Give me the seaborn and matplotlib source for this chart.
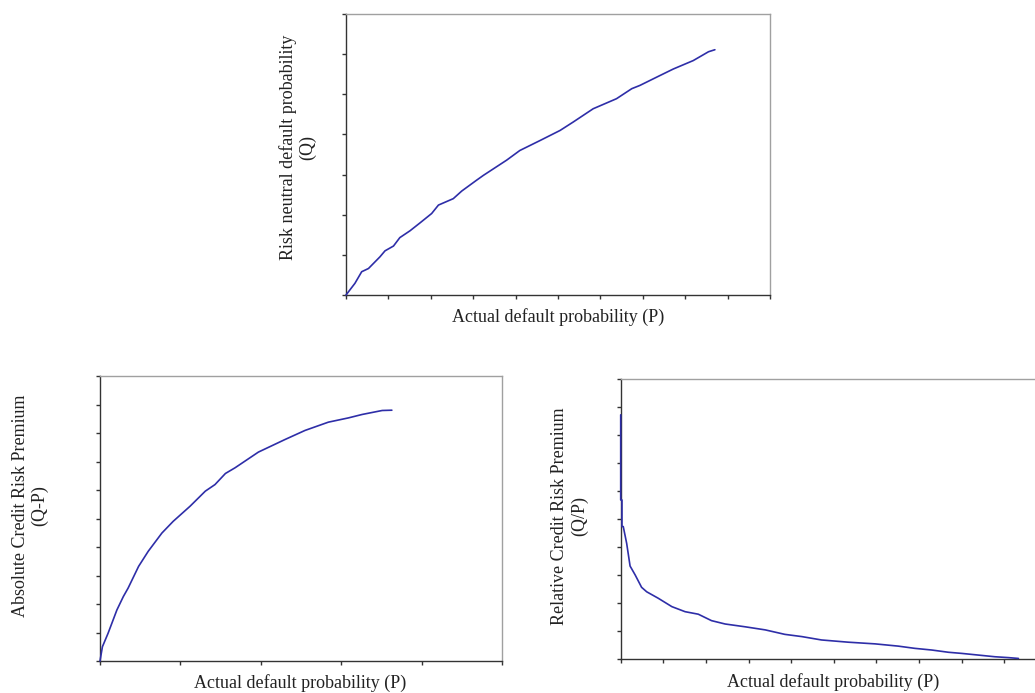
import numpy as np
import matplotlib
matplotlib.use("Agg")
import matplotlib.pyplot as plt
import seaborn as sns

# ---- data (arbitrary units, tick-based scale) ----
q_x = [0.0, 0.21, 0.37, 0.53, 0.80, 0.92, 1.12, 1.27, 1.51, 1.75, 2.02, 2.18, 2.53, 2.73,
       3.08, 3.24, 3.79, 4.10, 4.58, 5.05, 5.36, 5.83, 6.38, 6.74, 6.93, 7.41, 7.72, 8.19,
       8.55, 8.70]
q_y = [0.0, 0.29, 0.58, 0.66, 0.95, 1.10, 1.22, 1.43, 1.60, 1.80, 2.03, 2.24, 2.40, 2.59,
       2.86, 2.98, 3.36, 3.60, 3.85, 4.10, 4.31, 4.64, 4.89, 5.14, 5.22, 5.47, 5.63, 5.84,
       6.06, 6.11]

abs_x = [0.0, 0.03, 0.10, 0.21, 0.29, 0.35, 0.48, 0.60, 0.77, 0.91, 1.12, 1.31, 1.43, 1.56,
         1.68, 1.97, 2.30, 2.55, 2.84, 3.09, 3.26, 3.51, 3.63]
abs_y = [0.0, 0.50, 0.97, 1.79, 2.26, 2.56, 3.32, 3.85, 4.49, 4.90, 5.43, 5.96, 6.19, 6.58,
         6.78, 7.33, 7.77, 8.09, 8.38, 8.53, 8.65, 8.79, 8.80]

rel_x = [0.0, 0.0, 0.03, 0.03, 0.06, 0.14, 0.22, 0.34, 0.49, 0.61, 0.88, 1.20, 1.51, 1.82,
         2.13, 2.45, 2.92, 3.39, 3.85, 4.25, 4.71, 5.34, 5.97, 6.51, 6.90, 7.30, 7.69, 8.00,
         8.39, 8.78, 9.09, 9.33]
rel_y = [8.72, 5.68, 5.68, 4.73, 4.73, 4.13, 3.32, 3.00, 2.56, 2.40, 2.17, 1.87, 1.69, 1.60,
         1.37, 1.25, 1.15, 1.04, 0.88, 0.80, 0.68, 0.60, 0.54, 0.46, 0.38, 0.32, 0.24, 0.20,
         0.14, 0.08, 0.05, 0.02]

xlabel = "Actual default probability (P)"
ylabels = ["Risk neutral default probability\n(Q)",
           "Absolute Credit Risk Premium\n(Q-P)",
           "Relative Credit Risk Premium\n(Q/P)"]

sns.set_style("ticks")
plt.rcParams["font.family"] = ["Liberation Serif", "DejaVu Serif"]

LINE = "#2e2ea8"
W, H = 1035, 693
fig = plt.figure(figsize=(W / 100, H / 100), dpi=100)


def make_axes(left, top, right, bottom):
    return fig.add_axes([left / W, 1 - bottom / H, (right - left) / W, (bottom - top) / H])


ax_top = make_axes(346, 14, 770, 295)
ax_bl = make_axes(100, 376, 502, 661)
ax_br = make_axes(620.7, 379, 1047, 659)

panels = [
    (ax_top, q_x, q_y, (0, 10), 10, (0, 7), 7, ylabels[0], (-0.114, 0.525), (0.5, -0.078)),
    (ax_bl, abs_x, abs_y, (0, 5), 5, (0, 10), 10, ylabels[1], (-0.174, 0.544), (0.499, -0.077)),
    (ax_br, rel_x, rel_y, (0, 10), 10, (0, 10), 10, ylabels[2], (-0.119, 0.511), (0.498, -0.082)),
]

for ax, xs, ys, xl, nx, yl, ny, ylab, ypos, xpos in panels:
    sns.lineplot(x=xs, y=ys, ax=ax, sort=False, color=LINE, linewidth=1.2, estimator=None)
    for ln in ax.lines:
        ln.set_zorder(3)
        ln.set_clip_on(False)
    ax.set_xlim(*xl)
    ax.set_ylim(*yl)
    ax.set_xticks(np.linspace(xl[0], xl[1], nx + 1))
    ax.set_yticks(np.linspace(yl[0], yl[1], ny + 1))
    ax.set_xticklabels([])
    ax.set_yticklabels([])
    ax.tick_params(direction="out", length=3, width=1, color="#333333")
    for s in ["left", "bottom"]:
        ax.spines[s].set_color("#333333")
        ax.spines[s].set_linewidth(1.0)
    for s in ["top", "right"]:
        ax.spines[s].set_color("#a0a0a0")
        ax.spines[s].set_linewidth(1.0)
    ax.set_xlabel(xlabel, fontsize=13, color="#222222")
    ax.set_ylabel(ylab, fontsize=13, color="#222222", linespacing=1.2)
    ax.xaxis.label.set_va("center")
    ax.yaxis.label.set_va("center")
    ax.yaxis.label.set_ha("center")
    ax.xaxis.set_label_coords(*xpos)
    ax.yaxis.set_label_coords(*ypos)

fig.savefig("out.png", dpi=100)
